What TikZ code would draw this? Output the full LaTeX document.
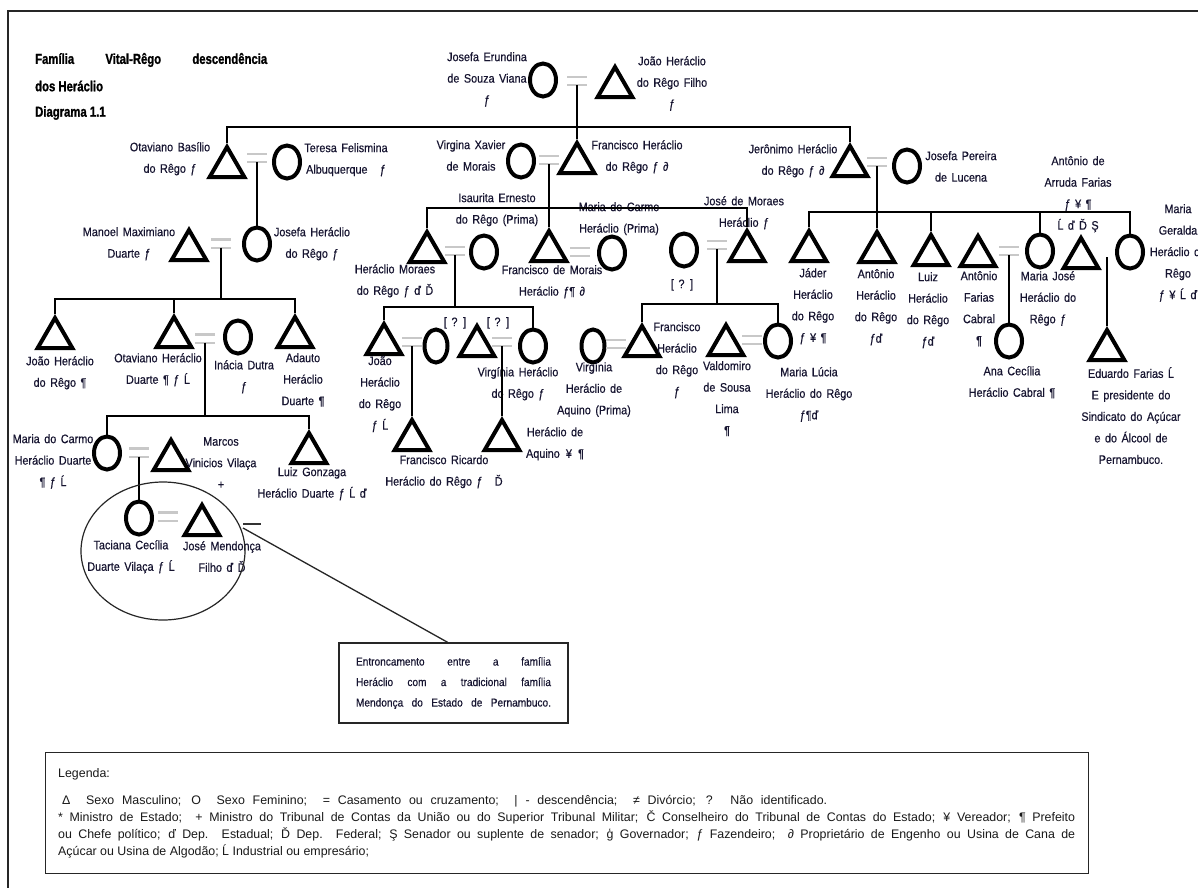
\documentclass[tikz,border=0pt]{standalone}
\usepackage{fontspec}
\setmainfont{Liberation Sans}[FakeStretch=0.88,WordSpace=1.5,FakeBold=0.4]
\newfontfamily\legfont{Liberation Sans}
\newfontfamily\titfont{Liberation Sans}[FakeStretch=0.78,FakeBold=1.2]
\usetikzlibrary{shapes.geometric,calc}
\definecolor{txt}{RGB}{22,20,48}
\definecolor{eqgray}{RGB}{200,200,200}
\newcommand\lblfont{\fontsize{12.3}{21.5}\selectfont}
\newcommand\eqsign[3]{\node[eqn] (#1) at (#2,#3) {};
  \draw[eqbar] (#1.north west) -- (#1.north east) (#1.south west) -- (#1.south east);}
\tikzset{
  msym/.style={regular polygon, regular polygon sides=3, draw=black, line width=4pt, minimum size=40pt, inner sep=0pt},
  fsym/.style={ellipse, draw=black, line width=4pt, minimum width=26pt, minimum height=33pt, inner sep=0pt},
  fnarrow/.style={fsym, minimum width=23pt},
  lbl/.style={font=\lblfont, text=txt, align=center, inner sep=0pt, anchor=north},
  desc/.style={line width=1.3pt, black},
  eqn/.style={minimum width=19pt, minimum height=8pt, inner sep=0pt, draw=none},
  eqbar/.style={line width=2.4pt, eqgray},
  legtxt/.style={font=\legfont\fontsize{12.4}{15}\selectfont, text=black!90, inner sep=0pt},
  title/.style={font=\titfont\bfseries\fontsize{14.5}{18}\selectfont, text=black, inner sep=0pt, anchor=west}
}
\begin{document}
\begin{tikzpicture}[x=1pt,y=-1pt]
\fill[white] (0,0) rectangle (1198,887);
\useasboundingbox (0,0) rectangle (1198,887);
\draw[line width=1.8pt, black!85] (8,900) -- (8,11) -- (1210,11);

% title
\node[title] (t1) at (35,60) {\makebox[232pt][s]{Família Vital-Rêgo descendência}};
\node[title] (t2) at (35,86) {dos Heráclio};
\node[title] (t3) at (35,113) {Diagrama 1.1};

% bars
\coordinate (b0) at (0,127);
\coordinate (b1) at (0,208);
\coordinate (b2) at (0,212);
\coordinate (b3) at (0,299);
\coordinate (b4) at (0,416);
\coordinate (b5) at (0,307);
\coordinate (b6) at (0,304);

% generation 0
\node[fsym] (JER) at (543,80) {};
\node[msym] (JHF) at (615,87) {};
\eqsign{eTop}{577}{81}
\node[lbl] (lJER) at (487,52) {Josefa Erundina\\de Souza Viana\\ƒ};
\node[lbl] (lJHF) at (672,56) {João Heráclio\\do Rêgo Filho\\ƒ};

% generation 1
\node[msym] (OB) at (227,167) {};
\node[fsym] (TF) at (287,162) {};
\eqsign{eOT}{257}{158}
\node[fsym] (VX) at (521,161) {};
\node[msym] (FH) at (577,163) {};
\eqsign{eVF}{549}{160}
\node[msym] (JHR) at (850,166) {};
\node[fsym] (JP) at (907,166) {};
\eqsign{eJP}{877}{162}
\node[lbl] (lOB) at (170,142) {Otaviano Basílio\\do Rêgo ƒ};
\node[lbl] (lTF) at (346,143) {Teresa Felismina\\Albuquerque\quad ƒ};
\node[lbl] (lVX) at (471,140) {Virgina Xavier\\de Morais};
\node[lbl] (lFH) at (637,140) {Francisco Heráclio\\do Rêgo ƒ ∂};
\node[lbl] (lJHR) at (793,144) {Jerônimo Heráclio\\do Rêgo ƒ ∂};
\node[lbl] (lJP) at (961,151) {Josefa Pereira\\de Lucena};

% generation 2 left
\node[msym] (MM) at (189,250) {};
\node[fsym] (JoH) at (257,244) {};
\eqsign{eMJ}{221}{243.5}
\node[lbl] (lMM) at (129,227) {Manoel Maximiano\\Duarte ƒ};
\node[lbl] (lJoH) at (312,227) {Josefa Heráclio\\do Rêgo ƒ};

% generation 2 middle
\node[msym] (HM) at (427,252) {};
\node[fsym] (IS) at (484,252) {};
\eqsign{eHI}{455}{251}
\node[msym] (FM) at (549,251) {};
\node[fsym] (MCP) at (612,253) {};
\eqsign{eFM}{580}{252}
\node[fsym] (JMW) at (684,250) {};
\node[msym] (JM) at (747,251) {};
\eqsign{eJM}{717}{245}
\node[lbl] (lIS) at (497,193) {Isaurita Ernesto\\do Rêgo (Prima)};
\node[lbl] (lHM) at (395,264) {Heráclio Moraes\\do Rêgo ƒ ď Ď};
\node[lbl] (lMCP) at (619,202) {Maria do Carmo\\Heráclio (Prima)};
\node[lbl] (lFM) at (552,265) {Francisco de Morais\\Heráclio ƒ¶ ∂};
\node[lbl] (lJM) at (744,196) {José de Moraes\\Heráclio ƒ};
\node[lbl] (lJMW) at (682,279) {[ ? ]};

% generation 2 right
\node[msym] (JA) at (809,251) {};
\node[msym] (AH) at (877,252) {};
\node[msym] (LH) at (931,255) {};
\node[msym] (AFC) at (978,256) {};
\node[fsym] (MJ) at (1040,251) {};
\eqsign{eAM}{1009}{251}
\node[msym] (AAF) at (1081,258) {};
\node[fsym] (MG) at (1130,252) {};
\node[lbl] (lJA) at (813,268) {Jáder\\Heráclio\\do Rêgo\\ƒ ¥ ¶};
\node[lbl] (lAH) at (876,269) {Antônio\\Heráclio\\do Rêgo\\ƒď};
\node[lbl] (lLH) at (928,272) {Luiz\\Heráclio\\do Rêgo\\ƒď};
\node[lbl] (lAFC) at (979,271) {Antônio\\Farias\\Cabral\\¶};
\node[lbl] (lMJ) at (1048,271) {Maria José\\Heráclio do\\Rêgo ƒ};
\node[lbl] (lAAF) at (1078,156) {Antônio de\\Arruda Farias\\ƒ ¥ ¶\\Ĺ ď Ď Ş};
\node[lbl] (lMG) at (1178,204) {Maria\\Geralda\\Heráclio do\\Rêgo\\ƒ ¥ Ĺ ď};

% generation 3 left
\node[msym] (JoaoH) at (55,338) {};
\node[msym] (OH) at (174,337) {};
\node[fsym] (ID) at (238,337) {};
\eqsign{eOI}{205}{338.5}
\node[msym] (AD) at (295,337) {};
\node[lbl] (lJoaoH) at (60,356) {João Heráclio\\do Rêgo ¶};
\node[lbl] (lOH) at (158,353) {Otaviano Heráclio\\Duarte ¶ ƒ Ĺ};
\node[lbl] (lID) at (244,360) {Inácia Dutra\\ƒ};
\node[lbl] (lAD) at (303,353) {Adauto\\Heráclio\\Duarte ¶};

% generation 3 middle
\node[msym] (JoaoM) at (384,344) {};
\node[fnarrow] (JQW) at (436,346) {};
\eqsign{eJQ}{412}{342}
\node[msym] (VHus) at (477,346) {};
\node[fsym] (VH) at (533,346) {};
\eqsign{eVV}{502}{342}
\node[lbl] (lJoaoM) at (380,356) {João\\Heráclio\\do Rêgo\\ƒ Ĺ};
\node[lbl] (lQ1) at (455,317) {[ ? ]};
\node[lbl] (lQ2) at (498,317) {[ ? ]};
\node[lbl] (lVH) at (518,367) {Virgínia Heráclio\\do Rêgo ƒ};

\node[fnarrow] (VA) at (593,346) {};
\eqsign{eVA}{616}{344}
\node[msym] (FHJ) at (642,346) {};
\node[msym] (VS) at (726,345) {};
\node[fsym] (ML) at (778,341) {};
\eqsign{eVM}{752}{340}
\node[lbl] (lVA) at (594,362) {Virgínia\\Heráclio de\\Aquino (Prima)};
\node[lbl] (lFHJ) at (677,322) {Francisco\\Heráclio\\do Rêgo\\ƒ};
\node[lbl] (lVS) at (727,361) {Valdomiro\\de Sousa\\Lima\\¶};
\node[lbl] (lML) at (809,367) {Maria Lúcia\\Heráclio do Rêgo\\ƒ¶ď};

\node[msym] (FR) at (412,440) {};
\node[msym] (HA) at (502,440) {};
\node[lbl] (lFR) at (444,455) {Francisco Ricardo\\Heráclio do Rêgo ƒ\quad Ď};
\node[lbl] (lHA) at (555,427) {Heráclio de\\Aquino\enspace ¥\enspace ¶};

% generation 4 left
\node[fsym] (MC) at (107,453) {};
\eqsign{eMC}{139}{452.5}
\node[msym] (MV) at (171,460) {};
\node[msym] (LG) at (309,453) {};
\node[lbl] (lMC) at (53,434) {Maria do Carmo\\Heráclio Duarte\\¶ ƒ Ĺ};
\node[lbl] (lMV) at (221,437) {Marcos\\Vinicios Vilaça\\+};
\node[lbl] (lLG) at (312,467) {Luiz Gonzaga\\Heráclio Duarte ƒ Ĺ ď};

% generation 5
\node[fsym] (TC) at (139,518) {};
\eqsign{eTJ}{168}{516.5}
\node[msym] (JMF) at (202,525) {};
\node[lbl] (lTC) at (131,540) {Taciana Cecília\\Duarte Vilaça ƒ Ĺ};
\node[lbl] (lJMF) at (222,541) {José Mendonça\\Filho ď Ď};

% right side lower
\node[fsym] (AC) at (1009,341) {};
\node[msym] (EF) at (1107,350) {};
\coordinate (cEF) at (1107,257);
\node[lbl] (lAC) at (1012,366) {Ana Cecília\\Heráclio Cabral ¶};
\node[lbl] (lEF) at (1131,367) {Eduardo Farias Ĺ\\E presidente do\\Sindicato do Açúcar\\e do Álcool de\\Pernambuco.};

% descent lines
\draw[desc] (eTop.south) -- (FH.north);
\draw[desc] (OB.north) |- (b0 -| JHR) -- (JHR.north);
\draw[desc] (eOT.south) -- (eOT.south |- JoH.north);
\draw[desc] (eVF.south) -- (FM.north);
\draw[desc] (HM.north) |- (b1 -| JM) -- (JM.north);
\draw[desc] (eJP.south) -- (AH.north);
\draw[desc] (JA.north) |- (b2 -| MG) -- (MG.north);
\draw[desc] (LH.north) -- (LH.north |- b2);
\draw[desc] (MJ.north) -- (MJ.north |- b2);
\draw[desc] (eMJ.south) -- (eMJ.south |- b3);
\draw[desc] (JoaoH.north) |- (b3 -| AD) -- (AD.north);
\draw[desc] (OH.north) -- (OH.north |- b3);
\draw[desc] (eOI.south) -- (eOI.south |- b4);
\draw[desc] (MC.north) |- (b4 -| LG) -- (LG.north);
\draw[desc] (eMC.south) -- (TC.north);
\draw[desc] (eHI.south) -- (eHI.south |- b5);
\draw[desc] (JoaoM.north) |- (b5 -| VH) -- (VH.north);
\draw[desc] (eJQ.south) -- (FR.north);
\draw[desc] (eVV.south) -- (HA.north);
\draw[desc] (eJM.south) -- (eJM.south |- b6);
\draw[desc] (FHJ.north) |- (b6 -| ML) -- (ML.north);
\draw[desc] (eAM.south) -- (AC.north);
\draw[desc] (cEF) -- (EF.north);

% callout
\node[ellipse, draw=black!85, line width=1.2pt, minimum width=164pt, minimum height=138pt, inner sep=0pt] (big) at (163,551) {};
\coordinate (d1) at (243,524);
\coordinate (d2) at (261,524);
\draw[line width=1.3pt, black!80] (d1) -- (d2);
\node[draw=black!85, line width=1.5pt, minimum width=229pt, minimum height=80pt, inner sep=0pt, font=\fontsize{11.5}{20.5}\selectfont, text=txt, align=left] (box) at (453.5,683)
 {\makebox[195pt][s]{Entroncamento entre a família}\\\makebox[195pt][s]{Heráclio com a tradicional família}\\\makebox[195pt][s]{Mendonça do Estado de Pernambuco.}};
\coordinate (co1) at (243,528);
\draw[line width=1.3pt, black!85] (co1) -- ($(box.north)+(-6,0)$);

% legend
\node[draw=black!85, line width=1.3pt, minimum width=1043pt, minimum height=121pt, inner sep=0pt, anchor=north west] (leg) at (45,752) {};
\node[legtxt, anchor=west] (lg0) at (58,774) {Legenda:};
\node[legtxt, anchor=west] (lg1) at (62,801) {\makebox[765pt][s]{Δ\ \ Sexo Masculino; O\ \ Sexo Feminino;\ \ = Casamento ou cruzamento;\ \ | - descendência;\ \ ≠ Divórcio; ? Não identificado.}};
\node[legtxt, anchor=west] (lg2) at (58,817) {\makebox[1017pt][s]{* Ministro de Estado;\ \ + Ministro do Tribunal de Contas da União ou do Superior Tribunal Militar; Č Conselheiro do Tribunal de Contas do Estado; ¥ Vereador; ¶ Prefeito}};
\node[legtxt, anchor=west] (lg3) at (58,834) {\makebox[1017pt][s]{ou Chefe político; ď Dep. Estadual; Ď Dep. Federal; Ş Senador ou suplente de senador; ģ Governador; ƒ Fazendeiro;\ \ ∂ Proprietário de Engenho ou Usina de Cana de}};
\node[legtxt, anchor=west] (lg4) at (58,851) {Açúcar ou Usina de Algodão; Ĺ Industrial ou empresário;};
\end{tikzpicture}
\end{document}
